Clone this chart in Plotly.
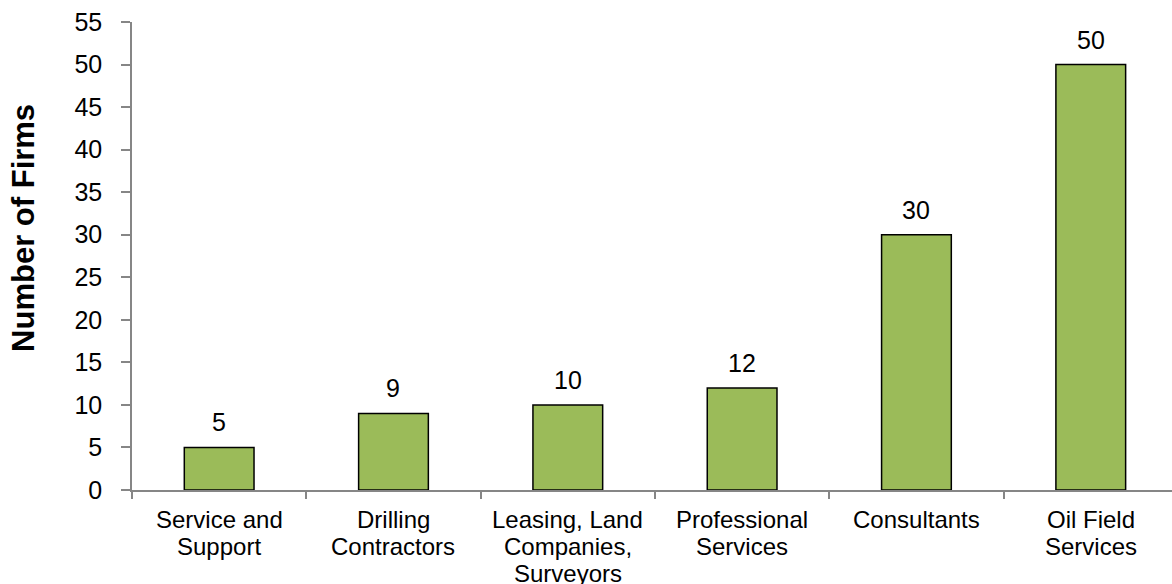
import plotly.graph_objects as go

categories = [
    "Service and\nSupport",
    "Drilling\nContractors",
    "Leasing, Land\nCompanies,\nSurveyors",
    "Professional\nServices",
    "Consultants",
    "Oil Field\nServices",
]
firms = [5, 9, 10, 12, 30, 50]
y_ticks = list(range(0, 60, 5))

FONT = "Liberation Sans, Arial, sans-serif"
AXIS_GREY = "#868686"
LINE_STEP = 27  # px between lines of a category label

fig = go.Figure(
    go.Bar(
        x=categories,
        y=firms,
        width=0.4,
        marker=dict(color="#9BBB59", line=dict(color="#000000", width=1.5)),
        hoverinfo="skip",
    )
)

# Value labels above each bar
for i, v in enumerate(firms):
    fig.add_annotation(
        x=i, y=v, xref="x", yref="y",
        text=str(v), showarrow=False,
        yanchor="bottom", yshift=9,
        font=dict(family=FONT, size=25, color="#000000"),
    )

# Category labels, one annotation per line for tighter line spacing
for i, name in enumerate(categories):
    for k, line in enumerate(name.split("\n")):
        fig.add_annotation(
            x=i, y=0, xref="x", yref="y",
            text=line, showarrow=False,
            yanchor="top", yshift=-14 - LINE_STEP * k,
            font=dict(family=FONT, size=24, color="#000000"),
        )

# Rotated axis title, left of the tick labels
fig.add_annotation(
    x=0, y=0.56, xref="paper", yref="paper",
    xanchor="center", yanchor="middle", xshift=-108,
    text="<b>Number of Firms</b>", showarrow=False, textangle=-90,
    font=dict(family=FONT, size=31, color="#000000"),
)

fig.update_layout(
    width=1172, height=584,
    margin=dict(l=132, r=0, t=22, b=94),
    paper_bgcolor="white", plot_bgcolor="white",
    showlegend=False,
    font=dict(family=FONT, size=24, color="#000000"),
    xaxis=dict(
        type="category",
        range=[-0.5, 5.466],
        showticklabels=False,
        tickson="boundaries",
        showgrid=False, zeroline=False, automargin=False,
        showline=True, linecolor=AXIS_GREY, linewidth=1.5,
        ticks="outside", ticklen=7, tickcolor=AXIS_GREY, tickwidth=1.5,
    ),
    yaxis=dict(
        range=[0, 55],
        tickmode="array", tickvals=y_ticks,
        showgrid=False, zeroline=False, automargin=False,
        showline=True, linecolor=AXIS_GREY, linewidth=1.5,
        ticks="outside", ticklen=9, tickcolor=AXIS_GREY, tickwidth=1.5,
        tickfont=dict(family=FONT, size=25, color="#000000"),
        ticklabelstandoff=14,
    ),
)

fig.write_html("out.html")
